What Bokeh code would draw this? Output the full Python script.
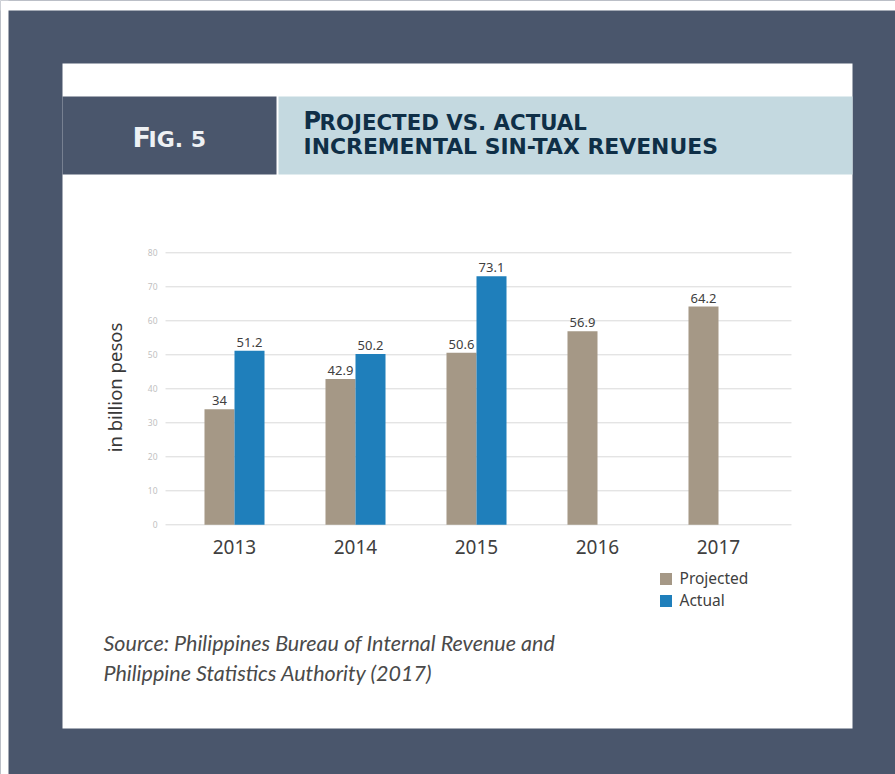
from bokeh.plotting import figure
from bokeh.models import (Range1d, Legend, LegendItem, ColumnDataSource,
                          LinearAxis, FixedTicker)
from bokeh.transform import dodge
from bokeh.core.properties import value
from bokeh.embed import file_html
from bokeh.resources import INLINE

# ---------------- data ----------------
years = ["2013", "2014", "2015", "2016", "2017"]
projected = [34, 42.9, 50.6, 56.9, 64.2]
actual = [51.2, 50.2, 73.1, None, None]
series_names = ["Projected", "Actual"]
y_ticks = [0, 10, 20, 30, 40, 50, 60, 70, 80]
y_title = "in billion pesos"
fig_label = "Fig. 5"
title_lines = ["Projected vs. actual", "incremental sin-tax revenues"]
source_lines = ["Source: Philippines Bureau of Internal Revenue and",
                "Philippine Statistics Authority (2017)"]

# ---------------- style / layout constants ----------------
DARK = "#4a566c"
LIGHT = "#c4d9e0"
C_PROJ = "#a59886"
C_ACT = "#1f7fbb"
TXT = "#404040"
TCOL = "#0f2f47"
W, H = 895, 774
BAND = 121.0      # px per category
C0 = 234.0        # px of first category centre
ZERO_PX = 524.3   # px of value 0
PX_PER_UNIT = 3.4
GRID_L, GRID_R = 165, 791

p = figure(width=W, height=H, x_range=Range1d(0, W), y_range=Range1d(H, 0),
           x_axis_type=None, y_axis_type=None,
           output_backend="svg", toolbar_location=None,
           min_border=0, outline_line_color=None,
           background_fill_color=DARK, border_fill_color=DARK)
p.extra_x_ranges = {"cat": Range1d(-C0 / BAND, (W - C0) / BAND)}
p.extra_y_ranges = {"val": Range1d(-(H - ZERO_PX) / PX_PER_UNIT,
                                   ZERO_PX / PX_PER_UNIT)}

# ---------------- decorations (pixel coordinates) ----------------
p.quad(left=[0, 0], right=[W, 8], top=[0, 0], bottom=[10, H],
       fill_color="white", line_color=None)
p.quad(left=[62], right=[852], top=[63], bottom=[728],
       fill_color="white", line_color=None)
p.quad(left=[62], right=[276], top=[96], bottom=[174],
       fill_color=DARK, line_color=None)
p.quad(left=[278], right=[852], top=[96], bottom=[174],
       fill_color=LIGHT, line_color=None)


def txt(x, y, t, size, color, font="DejaVu Sans", style="bold",
        baseline="middle", align="left"):
    p.text(x=[x], y=[y], text=[t], text_font=value(font),
           text_font_size=size, text_font_style=style, text_color=color,
           text_baseline=baseline, text_align=align)


# "FIG. 5" in small caps
txt(132, 137, fig_label[0].upper(), "27px", "#eef1f4")
txt(148, 138.5, fig_label[1:].upper(), "22px", "#eef1f4")
# title in small caps
txt(303, 120.5, title_lines[0][0].upper(), "24px", TCOL)
txt(319, 122, title_lines[0][1:].upper(), "21.3px", TCOL)
txt(303, 146, title_lines[1].upper(), "21.9px", TCOL)
# source
txt(103, 642, source_lines[0], "21.5px", "#4a4a4a", font="Lato", style="italic")
txt(103, 672, source_lines[1], "21.5px", "#4a4a4a", font="Lato", style="italic")

# ---------------- chart ----------------
idx = list(range(len(years)))
gx0 = (GRID_L - C0) / BAND
gx1 = (GRID_R - C0) / BAND

p.segment(x0=gx0, x1=gx1, y0=y_ticks, y1=y_ticks, line_color="#d9d9d9",
          line_width=1, x_range_name="cat", y_range_name="val")

src_p = ColumnDataSource(dict(idx=idx, value=projected,
                              label=[f"{v:g}" for v in projected]))
a_idx = [i for i, v in zip(idx, actual) if v is not None]
a_vals = [v for v in actual if v is not None]
src_a = ColumnDataSource(dict(idx=a_idx, value=a_vals,
                              label=[f"{v:g}" for v in a_vals]))

off = 0.124
rp = p.vbar(x=dodge("idx", -off), top="value", bottom=0, width=0.248,
            source=src_p, fill_color=C_PROJ, line_color=None,
            x_range_name="cat", y_range_name="val")
ra = p.vbar(x=dodge("idx", off), top="value", bottom=0, width=0.248,
            source=src_a, fill_color=C_ACT, line_color=None,
            x_range_name="cat", y_range_name="val")

for src, o in ((src_p, -off), (src_a, off)):
    p.text(x=dodge("idx", o), y="value", text="label", source=src,
           text_align="center", text_baseline="bottom", y_offset=-4,
           text_font=value("Noto Sans"), text_font_size="13px",
           text_color=TXT, x_range_name="cat", y_range_name="val")

xaxis = LinearAxis(x_range_name="cat", y_range_name="val", fixed_location=0,
                   ticker=FixedTicker(ticks=idx),
                   major_label_overrides={i: y for i, y in zip(idx, years)},
                   axis_line_color=None, major_tick_line_color=None,
                   minor_tick_line_color=None, major_tick_out=0,
                   major_tick_in=0, major_label_standoff=15,
                   major_label_text_font="Noto Sans",
                   major_label_text_font_size="19px",
                   major_label_text_color=TXT)
p.add_layout(xaxis, "below")

yaxis = LinearAxis(x_range_name="cat", y_range_name="val", fixed_location=gx0,
                   ticker=FixedTicker(ticks=y_ticks),
                   axis_line_color=None, major_tick_line_color=None,
                   minor_tick_line_color=None, major_tick_out=0,
                   major_tick_in=0, major_label_standoff=8,
                   major_label_text_font="Noto Sans",
                   major_label_text_font_size="8.5px",
                   major_label_text_color="#bfbfbf",
                   axis_label=y_title, axis_label_text_font="Noto Sans",
                   axis_label_text_font_style="normal",
                   axis_label_text_font_size="18.5px",
                   axis_label_text_color="#383838", axis_label_standoff=18)
p.add_layout(yaxis, "left")

legend = Legend(items=[LegendItem(label=series_names[0], renderers=[rp]),
                       LegendItem(label=series_names[1], renderers=[ra])],
                location=(657.5, H - 611), orientation="vertical",
                glyph_width=15, glyph_height=15, label_height=20, spacing=0,
                padding=0, margin=0, border_line_color=None,
                background_fill_alpha=0, label_text_font="Noto Sans",
                label_text_font_size="15.5px", label_text_color=TXT,
                label_standoff=7)
p.add_layout(legend)

open("out.html", "w").write(file_html(p, INLINE))
